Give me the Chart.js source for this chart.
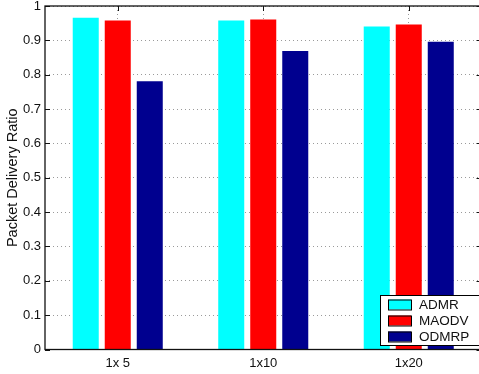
<!DOCTYPE html>
<html>
<head>
<meta charset="utf-8">
<script src="https://cdn.jsdelivr.net/npm/chart.js@4/dist/chart.umd.min.js"></script>
<style>
  html, body { margin: 0; padding: 0; background: #fff; overflow: hidden; width: 479px; height: 374px; }
  #wrap { position: relative; width: 490px; height: 374px; }
</style>
</head>
<body>
<div id="wrap"><canvas id="c" width="490" height="374"></canvas></div>
<script>
// Packet delivery ratio per scenario
const categories = ['1x 5', '1x10', '1x20'];
const seriesNames = ['ADMR', 'MAODV', 'ODMRP'];
const admr  = [0.966, 0.958, 0.940];
const maodv = [0.958, 0.961, 0.946];
const odmrp = [0.781, 0.869, 0.896];
const yTicks = [0, 0.1, 0.2, 0.3, 0.4, 0.5, 0.6, 0.7, 0.8, 0.9, 1];

const colors = ['#00ffff', '#ff0000', '#00008f'];
const FONT = 'Liberation Sans, Arial, Helvetica, sans-serif';

// Box frame with inward tick marks, plus an inset legend
const framePlugin = {
  id: 'frame',
  beforeDatasetsDraw(chart) {
    const { ctx, chartArea: a, scales: { x, y } } = chart;
    ctx.save();
    ctx.strokeStyle = '#111';
    ctx.lineWidth = 1;
    ctx.beginPath();
    yTicks.forEach(v => {
      const py = Math.round(y.getPixelForValue(v)) + 0.5;
      ctx.moveTo(a.left, py); ctx.lineTo(a.left + 5, py);
      ctx.moveTo(a.right, py); ctx.lineTo(a.right - 5, py);
    });
    categories.forEach((c, i) => {
      const px = Math.round(x.getPixelForValue(i)) + 0.5;
      ctx.moveTo(px, a.top); ctx.lineTo(px, a.top + 5);
      ctx.moveTo(px, a.bottom); ctx.lineTo(px, a.bottom - 5);
    });
    ctx.stroke();
    ctx.restore();
  },
  afterDatasetsDraw(chart) {
    const { ctx, chartArea: a } = chart;
    ctx.save();
    ctx.strokeStyle = '#111';
    ctx.lineWidth = 1.3;
    ctx.strokeRect(a.left, a.top, a.right - a.left, a.bottom - a.top);
    ctx.restore();
  },
  afterDraw(chart) {
    const { ctx, chartArea: a } = chart;
    const right = Math.round(a.right) + 1, bottom = Math.round(a.bottom) - 5;
    const w = 103, h = 50;
    const left = right - w, top = bottom - h;
    ctx.save();
    ctx.fillStyle = '#fff';
    ctx.fillRect(left, top, w, h);
    ctx.strokeStyle = '#000';
    ctx.lineWidth = 1;
    ctx.strokeRect(left + 0.5, top + 0.5, w, h);
    ctx.font = '13.5px ' + FONT;
    ctx.textBaseline = 'middle';
    ctx.textAlign = 'left';
    seriesNames.forEach((name, i) => {
      const cy = top + 9.5 + i * 16;
      ctx.fillStyle = colors[i];
      ctx.fillRect(left + 8, cy - 5, 23, 10);
      ctx.strokeStyle = '#000';
      ctx.strokeRect(left + 8.5, cy - 4.5, 23, 10);
      ctx.fillStyle = '#111';
      ctx.fillText(name, left + 39, cy + 0.5);
    });
    ctx.restore();
  }
};

const gridColor = '#9a9a9a';

new Chart(document.getElementById('c'), {
  type: 'bar',
  data: {
    labels: categories,
    datasets: [admr, maodv, odmrp].map((d, i) => ({
      label: seriesNames[i],
      data: d,
      backgroundColor: colors[i],
      borderWidth: 0,
      categoryPercentage: 0.66,
      barPercentage: 0.8125
    }))
  },
  options: {
    responsive: false,
    animation: false,
    events: [],
    layout: { padding: { top: 6, right: 8.5, left: 0, bottom: 0 } },
    plugins: { legend: { display: false }, tooltip: { enabled: false } },
    scales: {
      x: {
        offset: true,
        grid: { offset: false, drawTicks: false, color: gridColor, lineWidth: 1 },
        border: { display: false, dash: [1, 3] },
        ticks: { color: '#111', padding: 7, font: { family: FONT, size: 13, lineHeight: 1 } },
        afterFit(s) { s.height = 24.5; }
      },
      y: {
        min: 0, max: 1,
        afterBuildTicks(s) { s.ticks = yTicks.map(v => ({ value: v })); },
        grid: { drawTicks: true, tickLength: 4, tickColor: 'rgba(0,0,0,0)', color: gridColor, lineWidth: 1 },
        border: { display: false, dash: [1, 3] },
        ticks: {
          color: '#111', padding: 0,
          font: { family: FONT, size: 13, lineHeight: 0.9 },
          callback: v => String(+v.toFixed(1))
        },
        title: {
          display: true, text: 'Packet Delivery Ratio', color: '#111',
          font: { family: FONT, size: 14.5 }, padding: { top: 4, bottom: 0 }
        },
        afterFit(s) { s.width = 45; }
      }
    }
  },
  plugins: [framePlugin]
});
</script>
</body>
</html>
